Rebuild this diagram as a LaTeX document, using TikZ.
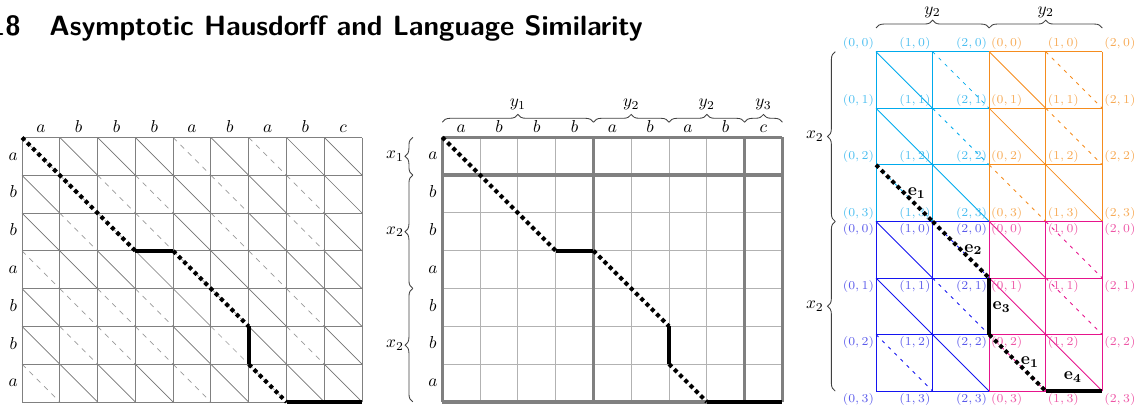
\documentclass[tikz,border=0pt]{standalone}
\usetikzlibrary{decorations.pathreplacing}
\definecolor{cyanC}{RGB}{0,170,236}
\definecolor{cyanL}{RGB}{75,190,240}
\definecolor{orangeC}{RGB}{245,140,30}
\definecolor{orangeL}{RGB}{247,170,85}
\definecolor{blueC}{RGB}{20,20,240}
\definecolor{blueL}{RGB}{90,90,235}
\definecolor{magC}{RGB}{230,20,140}
\definecolor{magL}{RGB}{238,85,165}
\tikzset{
  lgridline/.style={draw=black!50, line width=0.5pt},
  lsolid/.style={draw=black!55, line width=0.4pt},
  ldash/.style={draw=black!40, line width=0.4pt, dashed},
  mthin/.style={draw=black!30, line width=0.6pt},
  mthick/.style={draw=black!50, line width=2pt},
  pathdot/.style={draw=black, line width=2.3pt, dotted},
  pathsolid/.style={draw=black, line width=2.3pt},
  bracestyle/.style={draw=black!75, line width=0.5pt, decorate, decoration={brace, amplitude=4.5pt}},
  rsolid/.style={line width=0.5pt},
  rdash/.style={line width=0.5pt, dash pattern=on 2pt off 3pt},
  vlabel/.style={font=\fontsize{7.5}{9}\selectfont, inner sep=1pt},
  elabel/.style={font=\normalsize, inner sep=0pt},
  titlefont/.style={font=\fontsize{16.1}{19}\selectfont\sffamily\bfseries},
}
\begin{document}
\begin{tikzpicture}[x=0.578pt,y=-0.578pt]
\useasboundingbox (0,0) rectangle (1138,415);

% title
\node[anchor=base east, inner sep=0pt, titlefont] (num) at (21,35) {18};
\node[anchor=base west, inner sep=0pt, titlefont] (title) at (49,35) {Asymptotic Hausdorff and Language Similarity};

% ---------- left grid ----------
\begin{scope}[shift={(22,137.5)}, x=21.84pt, y=-21.84pt]
  \foreach \r/\rl/\rn in {0/a/1,1/b/2,2/b/2,3/a/1,4/b/2,5/b/2,6/a/1}{
    \foreach \c/\cl/\cn in {0/a/1,1/b/2,2/b/2,3/b/2,4/a/1,5/b/2,6/a/1,7/b/2,8/c/3}{
      \ifnum\rn=\cn\relax \def\st{ldash}\else\def\st{lsolid}\fi
      \draw[\st] (\c,\r) -- ++(1,1);
    }
    \node[anchor=base] (lrow\r) at (-0.23,\r+0.6) {$\rl$};
  }
  \foreach \c/\cl in {0/a,1/b,2/b,3/b,4/a,5/b,6/a,7/b,8/c}{
    \node[anchor=base] (lcol\c) at (\c+0.5,-0.13) {$\cl$};
  }
  \foreach \i in {0,...,9}{ \draw[lgridline] (\i,0) -- (\i,7); }
  \foreach \j in {0,...,7}{ \draw[lgridline] (0,\j) -- (9,\j); }
  \coordinate (L0) at (0,0); \coordinate (L1) at (3,3); \coordinate (L2) at (4,3);
  \coordinate (L3) at (6,5); \coordinate (L4) at (6,6); \coordinate (L5) at (7,7);
  \coordinate (L6) at (9,7);
  \draw[pathdot] (L0) -- (L1);
  \draw[pathsolid] (L1) -- (L2);
  \draw[pathdot] (L2) -- (L3);
  \draw[pathsolid] (L3) -- (L4);
  \draw[pathdot] (L4) -- (L5);
  \draw[pathsolid] (L5) -- (L6);
\end{scope}

% ---------- middle grid ----------
\begin{scope}[shift={(442.3,137.3)}, x=21.84pt, y=-21.84pt]
  \foreach \i in {1,2,3,5,6,7}{ \draw[mthin] (\i,0) -- (\i,7); }
  \foreach \j in {2,...,6}{ \draw[mthin] (0,\j) -- (9,\j); }
  \foreach \i in {0,4,8,9}{ \draw[mthick] (\i,0) -- (\i,7); }
  \foreach \j in {0,1,7}{ \draw[mthick] (0,\j) -- (9,\j); }
  \foreach \r/\rl in {0/a,1/b,2/b,3/a,4/b,5/b,6/a}{
    \node[anchor=base] (mrow\r) at (-0.25,\r+0.6) {$\rl$};
  }
  \foreach \c/\cl in {0/a,1/b,2/b,3/b,4/a,5/b,6/a,7/b,8/c}{
    \node[anchor=base] (mcol\c) at (\c+0.5,-0.13) {$\cl$};
  }
  % top braces
  \draw[bracestyle] (0,-0.4) -- (4,-0.4);
  \draw[bracestyle] (4,-0.4) -- (6,-0.4);
  \draw[bracestyle] (6,-0.4) -- (8,-0.4);
  \draw[bracestyle] (8,-0.4) -- (9,-0.4);
  \node (my1) at (2,-0.87) {$y_1$};
  \node (my2a) at (5,-0.87) {$y_2$};
  \node (my2b) at (7,-0.87) {$y_2$};
  \node (my3) at (8.5,-0.87) {$y_3$};
  % left braces
  \draw[bracestyle] (-0.78,1) -- (-0.78,0);
  \draw[bracestyle] (-0.78,4) -- (-0.78,1);
  \draw[bracestyle] (-0.78,7) -- (-0.78,4);
  \node (mx1) at (-1.25,0.5) {$x_1$};
  \node (mx2a) at (-1.25,2.5) {$x_2$};
  \node (mx2b) at (-1.25,5.5) {$x_2$};
  \coordinate (M0) at (0,0); \coordinate (M1) at (3,3); \coordinate (M2) at (4,3);
  \coordinate (M3) at (6,5); \coordinate (M4) at (6,6); \coordinate (M5) at (7,7);
  \coordinate (M6) at (9,7);
  \draw[pathdot] (M0) -- (M1);
  \draw[pathsolid] (M1) -- (M2);
  \draw[pathdot] (M2) -- (M3);
  \draw[pathsolid] (M3) -- (M4);
  \draw[pathdot] (M4) -- (M5);
  \draw[pathsolid] (M5) -- (M6);
\end{scope}

% ---------- right grid ----------
\begin{scope}[shift={(876,51.7)}, x=32.7pt, y=-32.7pt]
  \foreach \bx/\by/\col/\lcol/\anc in {0/0/cyanC/cyanL/south east, 2/0/orangeC/orangeL/south west, 0/3/blueC/blueL/north east, 2/3/magC/magL/north west}{
    \foreach \c/\r in {0/0,0/1,1/2}{ \draw[rsolid, draw=\col] (\bx+\c,\by+\r) -- ++(1,1); }
    \foreach \c/\r in {1/0,1/1,0/2}{ \draw[rdash, draw=\col] (\bx+\c,\by+\r) -- ++(1,1); }
    \foreach \i in {0,1,2}{ \draw[rsolid, draw=\col] (\bx+\i,\by) -- (\bx+\i,\by+3); }
    \foreach \j in {0,1,2,3}{ \draw[rsolid, draw=\col] (\bx,\by+\j) -- (\bx+2,\by+\j); }
    \foreach \i in {0,1,2}{
      \foreach \j in {0,1,2,3}{
        \node[vlabel, anchor=\anc, text=\lcol] at (\bx+\i,\by+\j) {$(\i,\j)$};
      }
    }
  }
  % braces
  \draw[bracestyle] (0,-0.42) -- (2,-0.42);
  \draw[bracestyle] (2,-0.42) -- (4,-0.42);
  \node (ry2a) at (1,-0.7) {$y_2$};
  \node (ry2b) at (3,-0.7) {$y_2$};
  \draw[bracestyle] (-0.72,3) -- (-0.72,0);
  \draw[bracestyle] (-0.72,6) -- (-0.72,3);
  \node (rx2a) at (-1.08,1.5) {$x_2$};
  \node (rx2b) at (-1.08,4.5) {$x_2$};
  % path
  \coordinate (R0) at (0,2); \coordinate (R1) at (1,3); \coordinate (R2) at (2,4);
  \coordinate (R3) at (2,5); \coordinate (R4) at (3,6); \coordinate (R5) at (4,6);
  \draw[pathdot] (R0) -- (R1);
  \draw[pathdot] (R1) -- (R2);
  \draw[pathsolid] (R2) -- (R3);
  \draw[pathdot] (R3) -- (R4);
  \draw[pathsolid] (R4) -- (R5);
  \node[elabel] (e1a) at (0.72,2.5) {$\mathbf{e_1}$};
  \node[elabel] (e2) at (1.72,3.5) {$\mathbf{e_2}$};
  \node[elabel] (e3) at (2.22,4.51) {$\mathbf{e_3}$};
  \node[elabel] (e1b) at (2.72,5.49) {$\mathbf{e_1}$};
  \node[elabel] (e4) at (3.48,5.75) {$\mathbf{e_4}$};
\end{scope}
\end{tikzpicture}
\end{document}
